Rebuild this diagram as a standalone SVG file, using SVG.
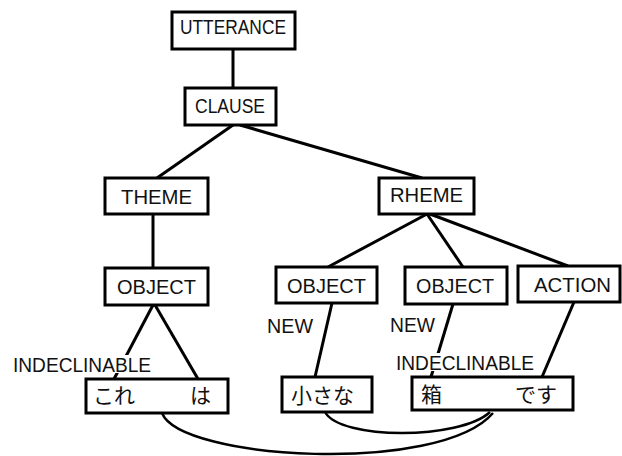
<svg xmlns="http://www.w3.org/2000/svg" width="622" height="456" viewBox="0 0 622 456">
<style>
.box{fill:#fff;stroke:#000;stroke-width:3}
.t{font-family:"Liberation Sans",Arial,sans-serif;font-size:20px;fill:#111}
.j{font-family:"Noto Sans CJK JP",sans-serif;font-size:21px;fill:#111}
.c{stroke:#000;stroke-width:3;fill:none}
.arc{stroke:#000;stroke-width:2.5;fill:none}
.bg{fill:#fff}
</style>
<rect width="622" height="456" fill="#fff"/>
<g id="connectors">
<line class="c" x1="233" y1="49" x2="233" y2="88"/>
<line class="c" x1="233" y1="125" x2="157" y2="178"/>
<line class="c" x1="240" y1="125" x2="422" y2="178"/>
<line class="c" x1="153" y1="214" x2="153" y2="268"/>
<line class="c" x1="427" y1="214" x2="328" y2="267"/>
<line class="c" x1="427" y1="214" x2="463" y2="267"/>
<line class="c" x1="430" y1="214" x2="568" y2="266"/>
<line class="c" x1="153" y1="305" x2="114" y2="379"/>
<line class="c" x1="155" y1="305" x2="198" y2="379"/>
<line class="c" x1="332" y1="303" x2="315" y2="377"/>
<line class="c" x1="453" y1="304" x2="431" y2="377"/>
<line class="c" x1="574" y1="302" x2="542" y2="377"/>
<path class="arc" d="M162,413 C180,460 440,475 493,413"/>
<path class="arc" d="M325,412 C340,440 460,440 490,412"/>
</g>
<g id="labels">
<text class="t" x="267" y="333" textLength="46" lengthAdjust="spacingAndGlyphs">NEW</text>
<text class="t" x="390" y="332" textLength="45" lengthAdjust="spacingAndGlyphs">NEW</text>
<rect class="bg" x="12" y="355" width="140" height="18"/>
<text class="t" x="13" y="372" textLength="138" lengthAdjust="spacingAndGlyphs">INDECLINABLE</text>
<rect class="bg" x="395" y="353" width="140" height="18"/>
<text class="t" x="396" y="370" textLength="138" lengthAdjust="spacingAndGlyphs">INDECLINABLE</text>
</g>
<g id="utterance"><rect class="box" x="172" y="12" width="123" height="37"/><text class="t" x="180" y="34" textLength="106" lengthAdjust="spacingAndGlyphs">UTTERANCE</text></g>
<g id="clause"><rect class="box" x="185" y="88" width="91" height="37"/><text class="t" x="195" y="113" textLength="70" lengthAdjust="spacingAndGlyphs">CLAUSE</text></g>
<g id="theme"><rect class="box" x="105" y="178" width="103" height="36"/><text class="t" x="121" y="204" textLength="71" lengthAdjust="spacingAndGlyphs">THEME</text></g>
<g id="rheme"><rect class="box" x="379" y="178" width="95" height="36"/><text class="t" x="390" y="202" textLength="73" lengthAdjust="spacingAndGlyphs">RHEME</text></g>
<g id="object1"><rect class="box" x="105" y="268" width="103" height="37"/><text class="t" x="117" y="294" textLength="79" lengthAdjust="spacingAndGlyphs">OBJECT</text></g>
<g id="object2"><rect class="box" x="276" y="267" width="101" height="36"/><text class="t" x="287" y="293" textLength="79" lengthAdjust="spacingAndGlyphs">OBJECT</text></g>
<g id="object3"><rect class="box" x="405" y="267" width="102" height="37"/><text class="t" x="416" y="293" textLength="78" lengthAdjust="spacingAndGlyphs">OBJECT</text></g>
<g id="action"><rect class="box" x="518" y="266" width="102" height="36"/><text class="t" x="534" y="292" textLength="77" lengthAdjust="spacingAndGlyphs">ACTION</text></g>
<g id="korewa"><rect class="box" x="86" y="379" width="142" height="34"/><text class="j" x="93" y="403">これ</text><text class="j" x="190" y="403">は</text></g>
<g id="chiisana"><rect class="box" x="282" y="377" width="90" height="35"/><text class="j" x="291" y="403">小さな</text></g>
<g id="hakodesu"><rect class="box" x="412" y="377" width="161" height="33"/><text class="j" x="421" y="402">箱</text><text class="j" x="515" y="402">です</text></g>
</svg>
